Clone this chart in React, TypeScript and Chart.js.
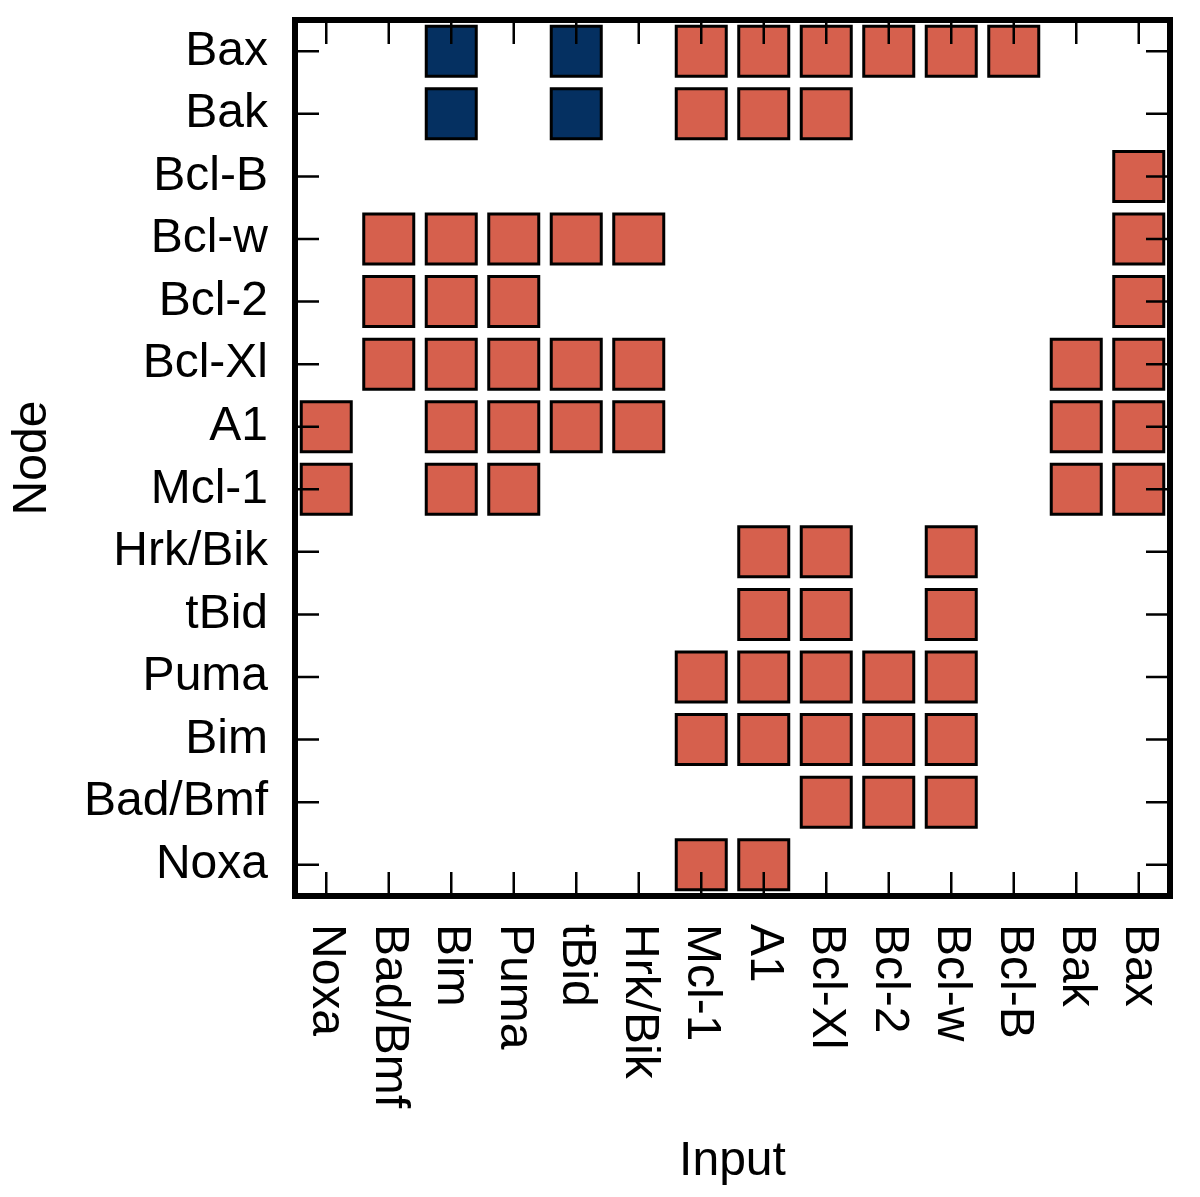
import React, { useEffect, useRef } from "react";
import { Chart, registerables } from "chart.js";

Chart.register(...registerables);

// Column categories (Input)
const inputs = ["Noxa", "Bad/Bmf", "Bim", "Puma", "tBid", "Hrk/Bik", "Mcl-1", "A1", "Bcl-Xl", "Bcl-2", "Bcl-w", "Bcl-B", "Bak", "Bax"];
// Row categories (Node), top to bottom
const nodes = ["Bax", "Bak", "Bcl-B", "Bcl-w", "Bcl-2", "Bcl-Xl", "A1", "Mcl-1", "Hrk/Bik", "tBid", "Puma", "Bim", "Bad/Bmf", "Noxa"];

// 1 = inhibition (red), -1 = activation (blue), 0 = none
const rowBax = [0, 0, -1, 0, -1, 0, 1, 1, 1, 1, 1, 1, 0, 0];
const rowBak = [0, 0, -1, 0, -1, 0, 1, 1, 1, 0, 0, 0, 0, 0];
const rowBclB = [0, 0, 0, 0, 0, 0, 0, 0, 0, 0, 0, 0, 0, 1];
const rowBclw = [0, 1, 1, 1, 1, 1, 0, 0, 0, 0, 0, 0, 0, 1];
const rowBcl2 = [0, 1, 1, 1, 0, 0, 0, 0, 0, 0, 0, 0, 0, 1];
const rowBclXl = [0, 1, 1, 1, 1, 1, 0, 0, 0, 0, 0, 0, 1, 1];
const rowA1 = [1, 0, 1, 1, 1, 1, 0, 0, 0, 0, 0, 0, 1, 1];
const rowMcl1 = [1, 0, 1, 1, 0, 0, 0, 0, 0, 0, 0, 0, 1, 1];
const rowHrkBik = [0, 0, 0, 0, 0, 0, 0, 1, 1, 0, 1, 0, 0, 0];
const rowTBid = [0, 0, 0, 0, 0, 0, 0, 1, 1, 0, 1, 0, 0, 0];
const rowPuma = [0, 0, 0, 0, 0, 0, 1, 1, 1, 1, 1, 0, 0, 0];
const rowBim = [0, 0, 0, 0, 0, 0, 1, 1, 1, 1, 1, 0, 0, 0];
const rowBadBmf = [0, 0, 0, 0, 0, 0, 0, 0, 1, 1, 1, 0, 0, 0];
const rowNoxa = [0, 0, 0, 0, 0, 0, 1, 1, 0, 0, 0, 0, 0, 0];

const matrixRows = [rowBax, rowBak, rowBclB, rowBclw, rowBcl2, rowBclXl, rowA1, rowMcl1, rowHrkBik, rowTBid, rowPuma, rowBim, rowBadBmf, rowNoxa];

const xTitle = "Input";
const yTitle = "Node";

const RED = "#d6604d";
const BLUE = "#053061";
const FONT = "48px 'Liberation Sans', Arial, sans-serif";

function cellsFor(value: number) {
  const pts: { x: string; y: string }[] = [];
  matrixRows.forEach((row, r) => {
    row.forEach((v, c) => {
      if (v === value) pts.push({ x: inputs[c], y: nodes[r] });
    });
  });
  return pts;
}

const framePlugin = {
  id: "frame",
  afterDraw(chart: any) {
    const { ctx, chartArea } = chart;
    const xs = chart.scales.x;
    const ys = chart.scales.y;
    const { left, right, top, bottom } = chartArea;
    const tickLen = 24;
    ctx.save();
    // ticks
    ctx.strokeStyle = "#000";
    ctx.lineWidth = 2.5;
    ctx.beginPath();
    for (let i = 0; i < inputs.length; i++) {
      const x = xs.getPixelForTick(i);
      ctx.moveTo(x, top);
      ctx.lineTo(x, top + tickLen);
      ctx.moveTo(x, bottom);
      ctx.lineTo(x, bottom - tickLen);
    }
    for (let i = 0; i < nodes.length; i++) {
      const y = ys.getPixelForTick(i);
      ctx.moveTo(left, y);
      ctx.lineTo(left + tickLen, y);
      ctx.moveTo(right, y);
      ctx.lineTo(right - tickLen, y);
    }
    ctx.stroke();
    // border
    ctx.lineWidth = 6;
    ctx.lineJoin = "miter";
    ctx.strokeRect(left, top, right - left, bottom - top);

    // tick labels
    ctx.fillStyle = "#000";
    ctx.font = FONT;
    ctx.textAlign = "right";
    ctx.textBaseline = "middle";
    for (let i = 0; i < nodes.length; i++) {
      ctx.fillText(nodes[i], left - 27, ys.getPixelForTick(i));
    }
    for (let i = 0; i < inputs.length; i++) {
      ctx.save();
      ctx.translate(xs.getPixelForTick(i), bottom + 28);
      ctx.rotate(Math.PI / 2);
      ctx.textAlign = "left";
      ctx.textBaseline = "middle";
      ctx.fillText(inputs[i], 0, 0);
      ctx.restore();
    }
    // axis titles
    ctx.textAlign = "center";
    ctx.textBaseline = "alphabetic";
    ctx.fillText(xTitle, (left + right) / 2, 1175);
    ctx.save();
    ctx.translate(33, (top + bottom) / 2);
    ctx.rotate(-Math.PI / 2);
    ctx.textBaseline = "middle";
    ctx.fillText(yTitle, 0, 0);
    ctx.restore();
    ctx.restore();
  },
};

export default function App() {
  const ref = useRef<HTMLCanvasElement>(null);
  useEffect(() => {
    document.body.style.margin = "0";
    const canvas = ref.current;
    if (!canvas) return;
    const side = 35.36;
    const chart = new Chart(canvas, {
      type: "scatter",
      data: {
        datasets: [
          {
            label: "inhibition",
            data: cellsFor(1) as any,
            backgroundColor: RED,
            borderColor: "#000",
            borderWidth: 3,
            pointStyle: "rect",
            pointRadius: side,
            pointHoverRadius: side,
            clip: false as any,
          },
          {
            label: "activation",
            data: cellsFor(-1) as any,
            backgroundColor: BLUE,
            borderColor: "#000",
            borderWidth: 3,
            pointStyle: "rect",
            pointRadius: side,
            pointHoverRadius: side,
            clip: false as any,
          },
        ],
      },
      options: {
        responsive: false,
        animation: false,
        devicePixelRatio: 1,
        layout: { autoPadding: false, padding: { left: 295, right: 30, top: 20, bottom: 301 } },
        plugins: { legend: { display: false }, tooltip: { enabled: false } },
        scales: {
          x: { type: "category", labels: inputs, offset: true, display: false },
          y: { type: "category", labels: nodes, offset: true, display: false },
        },
      },
      plugins: [framePlugin],
    });
    return () => chart.destroy();
  }, []);
  return (
    <div style={{ width: 1200, height: 1197, background: "#fff" }}>
      <canvas ref={ref} width={1200} height={1197} style={{ display: "block" }} />
    </div>
  );
}
